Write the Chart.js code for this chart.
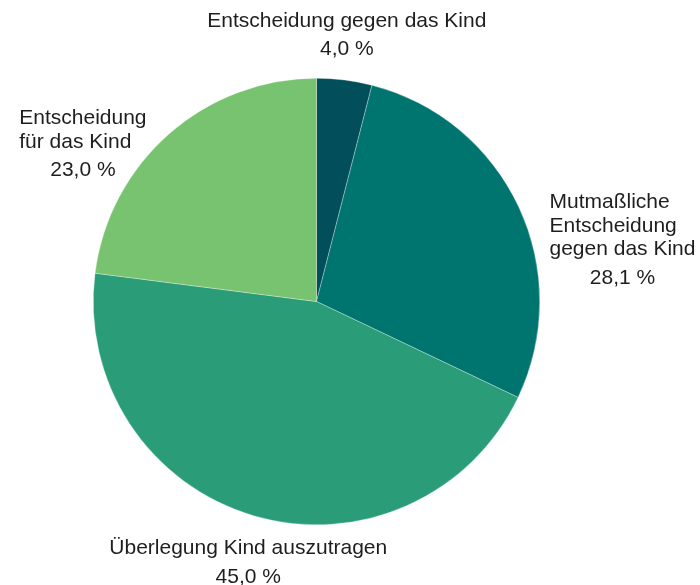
<!DOCTYPE html>
<html>
<head>
<meta charset="utf-8">
<script src="https://cdn.jsdelivr.net/npm/chart.js@4"></script>
<style>
  html, body { margin: 0; padding: 0; background: #fff; }
  canvas { display: block; }
</style>
</head>
<body>
<canvas id="pie" width="700" height="585"></canvas>
<script>
const categories = [
  ['Entscheidung gegen das Kind'],
  ['Mutmaßliche', 'Entscheidung', 'gegen das Kind'],
  ['Überlegung Kind auszutragen'],
  ['Entscheidung', 'für das Kind']
];
const values = [4.0, 28.1, 45.0, 23.0];
const colors = ['#024e5a', '#00756f', '#2a9d78', '#78c36f'];

const fontFamily = '"Liberation Sans", Arial, sans-serif';

// draws the outside labels from each arc's position
const outsideLabels = {
  id: 'outsideLabels',
  afterDatasetsDraw(chart) {
    const ctx = chart.ctx;
    const meta = chart.getDatasetMeta(0);
    const lh = 23.5;
    const valGap = 5;
    ctx.save();
    ctx.font = '21px ' + fontFamily;
    ctx.fillStyle = '#1e1e1e';
    ctx.textBaseline = 'middle';
    meta.data.forEach((arc, i) => {
      const p = arc.getProps(['x', 'y', 'startAngle', 'endAngle', 'outerRadius'], true);
      const mid = (p.startAngle + p.endAngle) / 2;
      const c = Math.cos(mid), s = Math.sin(mid);
      const side = Math.abs(s) <= 0.8;
      const gap = side ? 34 : 19;
      const ax = p.x + c * (p.outerRadius + gap);
      const ay = p.y + s * (p.outerRadius + gap);
      const lines = categories[i];
      const valText = values[i].toFixed(1).replace('.', ',') + ' %';
      const w = Math.max(...lines.map(l => ctx.measureText(l).width));
      const h = lines.length * lh + valGap + lh;

      let left;
      if (c > 0.35) left = ax;
      else if (c < -0.35) left = ax - w;
      else left = ax - w / 2;

      let top;
      if (s < -0.8) top = ay - h;
      else if (s > 0.8) top = ay + 3;
      else top = ay - lh / 2 + 10;

      ctx.textAlign = 'left';
      lines.forEach((l, k) => {
        const lw = ctx.measureText(l).width;
        const x = lines.length === 1 ? left + (w - lw) / 2 : left;
        ctx.fillText(l, x, top + k * lh + lh / 2);
      });
      ctx.textAlign = 'center';
      ctx.fillText(valText, left + w / 2, top + lines.length * lh + valGap + lh / 2);
    });
    ctx.restore();
  }
};

new Chart(document.querySelector('#pie').getContext('2d'), {
  type: 'pie',
  data: {
    labels: categories.map(c => c.join(' ')),
    datasets: [{
      data: values,
      backgroundColor: colors,
      borderColor: 'rgba(255,255,255,0.6)',
      borderWidth: 0.5
    }]
  },
  options: {
    responsive: false,
    animation: false,
    layout: { padding: { left: 93, right: 160, top: 78, bottom: 60 } },
    plugins: {
      legend: { display: false },
      tooltip: { enabled: false }
    }
  },
  plugins: [outsideLabels]
});
</script>
</body>
</html>
